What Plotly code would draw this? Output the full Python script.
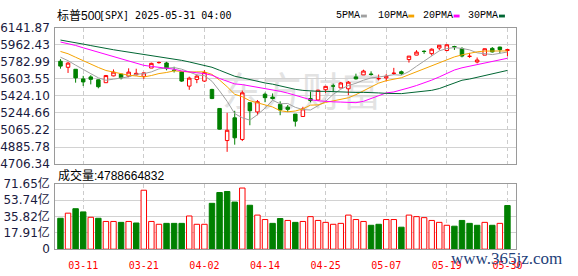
import plotly.graph_objects as go

# ---------------- data ----------------
dates = ["03-06", "03-07", "03-10", "03-11", "03-12", "03-13", "03-14", "03-17", "03-18", "03-19",
         "03-20", "03-21", "03-24", "03-25", "03-26", "03-27", "03-28", "03-31", "04-01", "04-02",
         "04-03", "04-04", "04-07", "04-08", "04-09", "04-10", "04-11", "04-14", "04-15", "04-16",
         "04-17", "04-21", "04-22", "04-23", "04-24", "04-25", "04-28", "04-29", "04-30", "05-01",
         "05-02", "05-05", "05-06", "05-07", "05-08", "05-09", "05-12", "05-13", "05-14", "05-15",
         "05-16", "05-19", "05-20", "05-21", "05-22", "05-23", "05-27", "05-28", "05-29", "05-30"]

opens = [5790.00, 5726.01, 5705.37, 5603.65, 5624.84, 5594.45, 5563.85, 5635.60, 5654.53, 5632.37,
         5646.92, 5630.73, 5718.08, 5775.14, 5771.66, 5695.64, 5679.13, 5527.91, 5597.53, 5580.76,
         5492.74, 5292.14, 4953.79, 5193.57, 4965.28, 5353.15, 5255.56, 5441.96, 5411.99, 5335.75,
         5305.45, 5232.94, 5207.67, 5395.93, 5381.38, 5489.73, 5529.22, 5508.87, 5499.44, 5625.14,
         5645.94, 5655.32, 5605.88, 5614.51, 5660.58, 5679.31, 5807.59, 5854.39, 5895.28, 5870.00,
         5929.09, 5902.88, 5944.66, 5923.47, 5841.26, 5781.89, 5854.07, 5925.54, 5939.39, 5903.67]

highs = [5812.08, 5783.01, 5705.37, 5636.30, 5642.19, 5597.78, 5645.27, 5703.52, 5654.53, 5715.33,
         5711.15, 5670.84, 5775.14, 5786.95, 5783.62, 5732.28, 5685.89, 5627.56, 5650.57, 5695.31,
         5499.53, 5292.14, 5246.57, 5267.47, 5481.34, 5353.15, 5381.46, 5459.46, 5450.41, 5367.24,
         5328.31, 5232.94, 5309.60, 5469.69, 5489.40, 5528.11, 5553.66, 5571.95, 5581.84, 5658.91,
         5700.70, 5683.30, 5649.50, 5654.42, 5720.10, 5691.69, 5844.19, 5906.63, 5906.00, 5925.50,
         5958.62, 5968.61, 5953.06, 5938.74, 5878.08, 5829.51, 5924.33, 5939.92, 5943.13, 5922.14]

lows = [5711.64, 5666.29, 5564.02, 5528.41, 5546.09, 5504.65, 5563.85, 5631.12, 5597.76, 5622.20,
        5640.47, 5603.10, 5718.08, 5764.01, 5694.41, 5670.94, 5572.42, 5488.73, 5558.52, 5571.48,
        5390.83, 5069.90, 4835.04, 4910.42, 4948.43, 5115.27, 5220.77, 5358.02, 5386.44, 5220.79,
        5255.58, 5101.63, 5207.67, 5356.82, 5371.96, 5455.86, 5468.64, 5505.70, 5433.24, 5597.35,
        5644.62, 5638.32, 5587.41, 5576.54, 5644.86, 5646.15, 5775.53, 5853.13, 5868.64, 5850.00,
        5907.36, 5895.69, 5909.26, 5830.91, 5825.82, 5767.41, 5854.07, 5881.88, 5873.80, 5843.66]

closes = [5738.52, 5770.20, 5614.56, 5572.07, 5599.30, 5521.52, 5638.94, 5675.12, 5614.66, 5675.29,
          5662.89, 5667.56, 5767.57, 5776.65, 5712.20, 5693.31, 5580.94, 5611.85, 5633.07, 5670.97,
          5396.52, 5074.08, 5062.25, 4982.77, 5456.90, 5268.05, 5363.36, 5405.97, 5396.63, 5275.70,
          5282.70, 5158.20, 5287.76, 5375.86, 5484.77, 5525.21, 5528.75, 5560.83, 5569.06, 5604.14,
          5686.67, 5650.38, 5606.91, 5631.28, 5663.94, 5659.91, 5844.19, 5886.55, 5892.58, 5916.93,
          5958.38, 5963.60, 5940.46, 5844.61, 5842.01, 5802.82, 5921.54, 5888.55, 5912.17, 5911.69]

# closes of the 29 sessions before the first shown day (for the moving averages)
prior_closes = [6118.71, 6101.24, 6012.28, 6067.70, 6039.31, 6071.17, 6040.53, 5994.57, 6037.88, 6061.48,
                6083.57, 6025.99, 6066.44, 6068.50, 6051.97, 6115.07, 6114.63, 6129.58, 6144.15, 6117.52,
                6013.13, 5983.25, 5955.25, 5956.06, 5861.57, 5954.50, 5849.72, 5778.15, 5842.63]

# volume in 亿 (1e8 shares)
volumes_yi = [33.9, 39.5, 44.4, 40.9, 35.0, 33.9, 30.4, 30.4, 29.4, 30.4,
              28.7, 64.7, 30.4, 27.3, 28.3, 28.3, 28.3, 36.4, 27.3, 27.3,
              50.3, 62.2, 63.3, 51.7, 67.1, 48.2, 37.4, 32.5, 28.3, 33.6,
              31.5, 29.4, 30.4, 35.7, 31.5, 29.4, 27.3, 28.3, 37.4, 32.5,
              30.4, 26.2, 27.3, 32.5, 32.5, 24.1, 37.4, 35.7, 34.6, 31.5,
              29.4, 26.2, 25.2, 31.5, 28.3, 26.2, 29.4, 26.2, 28.3, 47.89]
last_volume_text = "4788664832"

title_cn = "标普500"
title_rest = "[SPX] 2025-05-31 04:00"

price_ticks = [4706.34, 4885.78, 5065.22, 5244.66, 5424.10, 5603.55, 5782.99, 5962.43, 6141.87]
price_tick_labels = ["4706.34", "4885.78", "5065.22", "5244.66", "5424.10", "5603.55", "5782.99",
                     "5962.43", "6141.87"]
vol_ticks = [0, 17.91, 35.82, 53.74, 71.65]
vol_tick_labels = ["0", "17.91亿", "35.82亿", "53.74亿", "71.65亿"]
date_tick_labels = ["03-11", "03-21", "04-02", "04-14", "04-25", "05-07", "05-19", "05-30"]

ma_periods = [5, 10, 20, 30]
ma_names = ["5PMA", "10PMA", "20PMA", "30PMA"]
ma_colors = ["#a0a0a0", "#f5a300", "#ff00ff", "#006633"]

# ---------------- derived ----------------
W, H = 578, 276
def px(v):
    return v / W
def py(v):
    return 1 - v / H

xs = list(range(len(dates)))
tick_pos = [dates.index(d) for d in date_tick_labels]
all_closes = prior_closes + closes
off = len(prior_closes)

UP = "#ff0000"
DOWN = "#008000"

fig = go.Figure()

# moving averages
for n, name, col in zip(ma_periods, ma_names, ma_colors):
    vals = []
    for i in range(len(closes)):
        win = all_closes[off + i - n + 1: off + i + 1]
        vals.append(sum(win) / len(win))
    fig.add_trace(go.Scatter(x=xs, y=vals, mode="lines", line=dict(color=col, width=1),
                             name=name, xaxis="x", yaxis="y", hoverinfo="skip"))

fig.add_trace(go.Candlestick(
    x=xs, open=opens, high=highs, low=lows, close=closes,
    increasing=dict(line=dict(color=UP, width=1), fillcolor="#ffffff"),
    decreasing=dict(line=dict(color=DOWN, width=1), fillcolor=DOWN),
    whiskerwidth=0, xaxis="x", yaxis="y", name="SPX"))

vol_fill, vol_line = [], []
for i, c in enumerate(closes):
    up = c >= all_closes[off + i - 1]
    vol_fill.append("#ffffff" if up else DOWN)
    vol_line.append(UP if up else DOWN)
fig.add_trace(go.Bar(x=xs, y=volumes_yi, width=0.72,
                     marker=dict(color=vol_fill, line=dict(color=vol_line, width=1)),
                     xaxis="x2", yaxis="y2", name="vol"))

xr = [-0.69, 60.1]
axis_common = dict(showline=True, mirror=True, linecolor="#9a9a9a", linewidth=1, zeroline=False,
                   ticks="", fixedrange=True)
fig.update_layout(
    width=W, height=H, margin=dict(l=0, r=0, t=0, b=0),
    paper_bgcolor="#ffffff", plot_bgcolor="#ffffff", showlegend=False,
    boxgap=0.34,
    xaxis=dict(domain=[px(55), px(522)], range=xr, anchor="y", tickvals=tick_pos,
               showticklabels=False, showgrid=True, gridcolor="#cccccc", griddash="4px,3px",
               gridwidth=1, rangeslider=dict(visible=False), **axis_common),
    yaxis=dict(domain=[py(165), py(21)], range=[price_ticks[0], price_ticks[-1]], anchor="x",
               tickvals=price_ticks, ticktext=price_tick_labels, showgrid=True, gridcolor="#d2d2d2",
               gridwidth=1, tickfont=dict(family="DejaVu Sans", size=12, color="#1a1a40"),
               ticklabelstandoff=2, **axis_common),
    xaxis2=dict(domain=[px(55), px(522)], range=xr, anchor="y2", tickvals=tick_pos,
                ticktext=date_tick_labels, showgrid=True, gridcolor="#cccccc", griddash="4px,3px",
                gridwidth=1, tickfont=dict(family="DejaVu Sans Mono", size=10, color="#ff0000"),
                ticklabelstandoff=7, **axis_common),
    yaxis2=dict(domain=[py(255), py(186)], range=[vol_ticks[0], vol_ticks[-1]], anchor="x2",
                tickvals=vol_ticks, ticktext=vol_tick_labels, showgrid=True, gridcolor="#d2d2d2",
                gridwidth=1, tickfont=dict(family="DejaVu Sans, Noto Sans CJK SC", size=12, color="#1a1a40"),
                ticklabelstandoff=2, **axis_common),
)

# watermark behind the traces
fig.add_shape(type="rect", xref="paper", yref="paper", x0=px(215), x1=px(395), y0=py(112), y1=py(72),
              line=dict(width=0), fillcolor="rgba(0,0,0,0)", layer="below",
              label=dict(text="东方财富", font=dict(family="Noto Sans CJK SC", size=40, color="#e3e3e3"),
                         textposition="middle center"))

annotations = [
    dict(x=px(55), y=py(8), text=title_cn, xanchor="left", yanchor="middle",
         font=dict(family="Liberation Sans, Noto Sans CJK SC", size=12, color="#000000")),
    dict(x=px(97), y=py(8), text=title_rest, xanchor="left", yanchor="middle",
         font=dict(family="DejaVu Sans Mono", size=10, color="#000000")),
    dict(x=px(56), y=py(177), text="成交量:" + last_volume_text, xanchor="left", yanchor="middle",
         font=dict(family="Liberation Sans, Noto Sans CJK SC", size=12, color="#000000")),
    dict(x=px(513), y=py(265), text="www.365jz.com", xanchor="center", yanchor="middle",
         font=dict(family="Liberation Serif", size=17, color="#1f3f7a")),
]
legend_x = [338, 380, 426, 472]
rect_x = [365, 413, 459, 505]
for name, col, lx, rx in zip(ma_names, ma_colors, legend_x, rect_x):
    annotations.append(dict(x=px(lx), y=py(8), text=name, xanchor="left", yanchor="middle",
                            font=dict(family="Liberation Mono", size=10, color="#000000")))
    fig.add_shape(type="rect", xref="paper", yref="paper", x0=px(rx), x1=px(rx + 6),
                  y0=py(10), y1=py(7), line=dict(width=0), fillcolor=col)
for a in annotations:
    a.update(xref="paper", yref="paper", showarrow=False)
fig.update_layout(annotations=annotations)

fig.write_html("out.html")
